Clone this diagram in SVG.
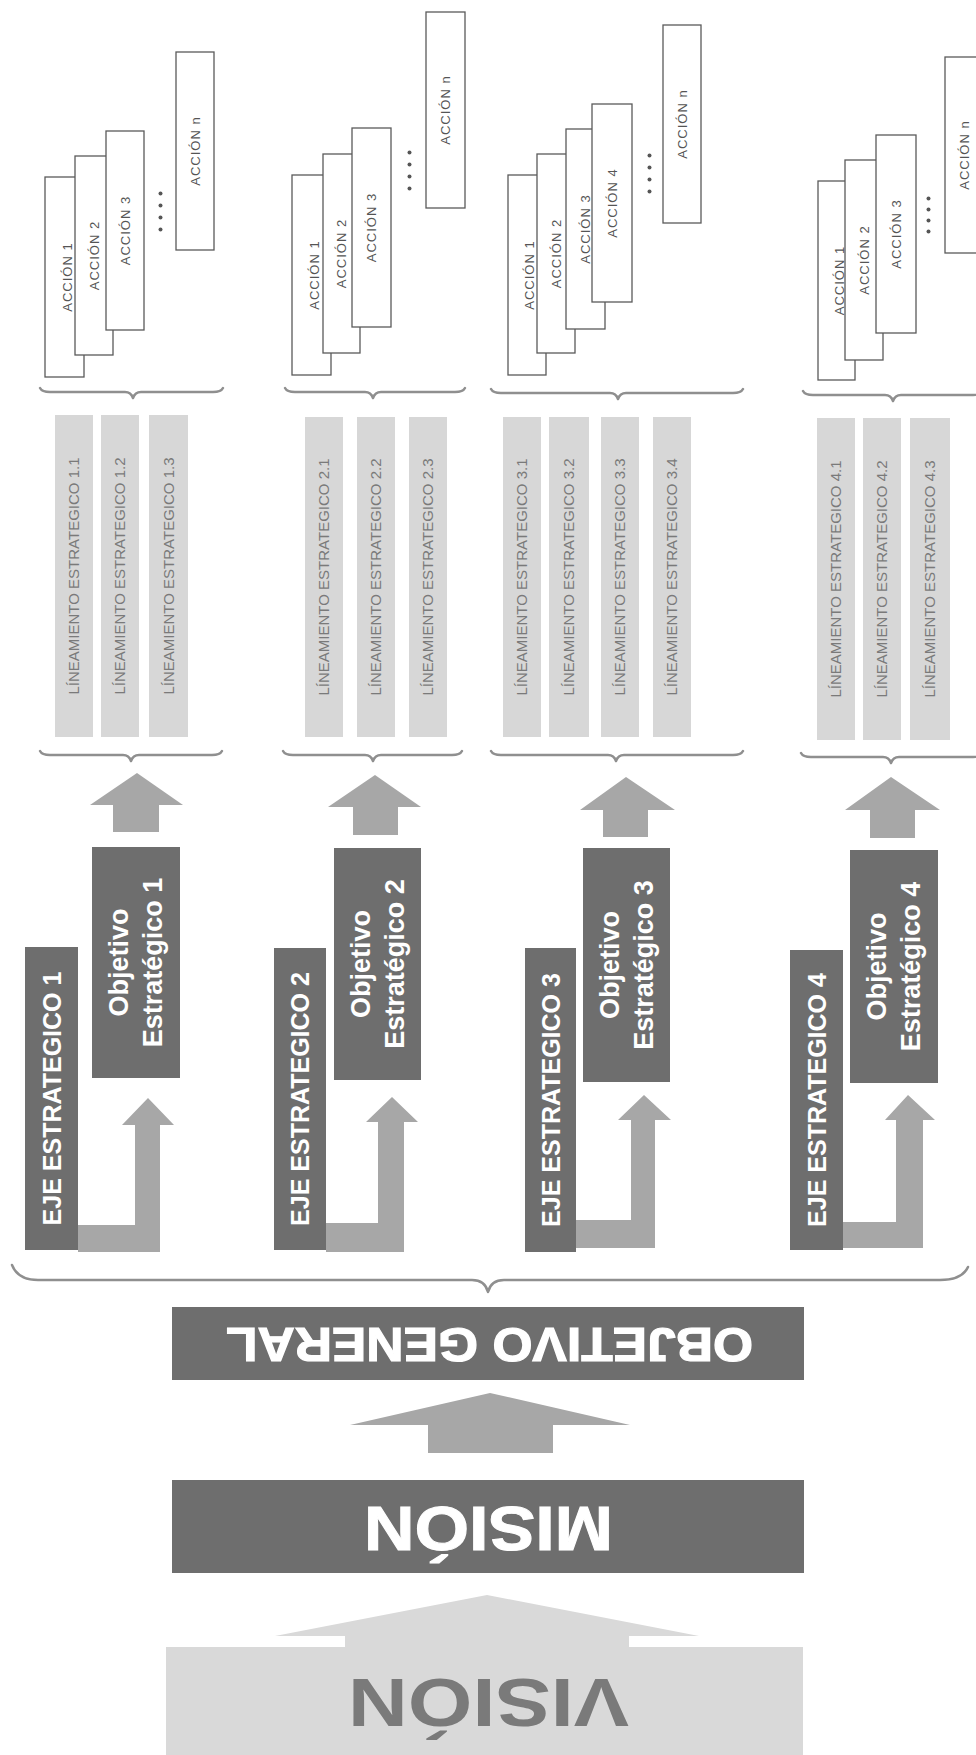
<svg xmlns="http://www.w3.org/2000/svg" width="976" height="1755" viewBox="0 0 976 1755">
<style>
text{font-family:"Liberation Sans",Arial,sans-serif}
.act{fill:#fff;stroke:#5a5a5a;stroke-width:1.3}
.at{font-size:13px;fill:#555;letter-spacing:1px;text-anchor:middle}
.dot{fill:#555}
.lin{fill:#d7d7d7}
.lt{font-size:15px;fill:#7a7a7a;text-anchor:middle}
.dark{fill:#6e6e6e}
.wt{fill:#fff;font-weight:bold;text-anchor:middle}
.arr{fill:#a7a7a7}
.brace{fill:none;stroke:#8f8f8f;stroke-width:2.5;stroke-linecap:round;stroke-linejoin:round}
</style>
<rect width="976" height="1755" fill="#fff"/>

<!-- ACTIONS -->
<g id="acciones-1">
<rect class="act" x="45" y="177" width="39" height="200"/>
<rect class="act" x="75" y="156" width="38" height="199"/>
<rect class="act" x="106" y="131" width="38" height="199"/>
<rect class="act" x="176" y="52" width="38" height="198"/>
<circle class="dot" cx="160.5" cy="193.5" r="2"/><circle class="dot" cx="160.5" cy="205.5" r="2"/><circle class="dot" cx="160.5" cy="217.5" r="2"/><circle class="dot" cx="160.5" cy="229.5" r="2"/>
<text class="at" transform="translate(67.5,277) rotate(-90)" y="4.5">ACCIÓN 1</text>
<text class="at" transform="translate(94,255.5) rotate(-90)" y="4.5">ACCIÓN 2</text>
<text class="at" transform="translate(125,230.5) rotate(-90)" y="4.5">ACCIÓN 3</text>
<text class="at" transform="translate(195,151) rotate(-90)" y="4.5">ACCIÓN n</text>
</g>
<g id="acciones-2">
<rect class="act" x="292" y="175" width="39" height="200"/>
<rect class="act" x="323" y="154" width="37" height="199"/>
<rect class="act" x="352" y="128" width="39" height="199"/>
<rect class="act" x="426" y="12" width="39" height="196"/>
<circle class="dot" cx="409.5" cy="152.5" r="2"/><circle class="dot" cx="409.5" cy="164.5" r="2"/><circle class="dot" cx="409.5" cy="176.5" r="2"/><circle class="dot" cx="409.5" cy="188.5" r="2"/>
<text class="at" transform="translate(314.5,275) rotate(-90)" y="4.5">ACCIÓN 1</text>
<text class="at" transform="translate(341.5,253.5) rotate(-90)" y="4.5">ACCIÓN 2</text>
<text class="at" transform="translate(371.5,227.5) rotate(-90)" y="4.5">ACCIÓN 3</text>
<text class="at" transform="translate(445.5,110) rotate(-90)" y="4.5">ACCIÓN n</text>
</g>
<g id="acciones-3">
<rect class="act" x="508" y="175" width="38" height="200"/>
<rect class="act" x="537" y="154" width="38" height="199"/>
<rect class="act" x="566" y="129" width="39" height="200"/>
<rect class="act" x="592" y="104" width="40" height="198"/>
<rect class="act" x="663" y="25" width="38" height="198"/>
<circle class="dot" cx="649.5" cy="155.5" r="2"/><circle class="dot" cx="649.5" cy="167.5" r="2"/><circle class="dot" cx="649.5" cy="179.5" r="2"/><circle class="dot" cx="649.5" cy="191.5" r="2"/>
<text class="at" transform="translate(529,275) rotate(-90)" y="4.5">ACCIÓN 1</text>
<text class="at" transform="translate(556,253.5) rotate(-90)" y="4.5">ACCIÓN 2</text>
<text class="at" transform="translate(585.5,229) rotate(-90)" y="4.5">ACCIÓN 3</text>
<text class="at" transform="translate(612,203) rotate(-90)" y="4.5">ACCIÓN 4</text>
<text class="at" transform="translate(682,124) rotate(-90)" y="4.5">ACCIÓN n</text>
</g>
<g id="acciones-4">
<rect class="act" x="818" y="181" width="37" height="199"/>
<rect class="act" x="845" y="160" width="38" height="200"/>
<rect class="act" x="876" y="135" width="40" height="198"/>
<rect class="act" x="945" y="57" width="38" height="196"/>
<circle class="dot" cx="928.5" cy="198.5" r="2"/><circle class="dot" cx="928.5" cy="209.5" r="2"/><circle class="dot" cx="928.5" cy="220.5" r="2"/><circle class="dot" cx="928.5" cy="231.5" r="2"/>
<text class="at" transform="translate(839.5,280.5) rotate(-90)" y="4.5">ACCIÓN 1</text>
<text class="at" transform="translate(864,260) rotate(-90)" y="4.5">ACCIÓN 2</text>
<text class="at" transform="translate(896,234) rotate(-90)" y="4.5">ACCIÓN 3</text>
<text class="at" transform="translate(964,155) rotate(-90)" y="4.5">ACCIÓN n</text>
</g>

<!-- LINEAMIENTOS -->
<g id="lineamientos-1">
<rect class="lin" x="55" y="415" width="38" height="322"/>
<rect class="lin" x="101" y="415" width="38" height="322"/>
<rect class="lin" x="149" y="415" width="39" height="322"/>
<text class="lt" transform="translate(74,576) rotate(-90)" y="5">LÍNEAMIENTO ESTRATEGICO 1.1</text>
<text class="lt" transform="translate(120,576) rotate(-90)" y="5">LÍNEAMIENTO ESTRATEGICO 1.2</text>
<text class="lt" transform="translate(168.5,576) rotate(-90)" y="5">LÍNEAMIENTO ESTRATEGICO 1.3</text>
</g>
<g id="lineamientos-2">
<rect class="lin" x="305" y="417" width="38" height="320"/>
<rect class="lin" x="357" y="417" width="38" height="320"/>
<rect class="lin" x="409" y="417" width="38" height="320"/>
<text class="lt" transform="translate(324,577) rotate(-90)" y="5">LÍNEAMIENTO ESTRATEGICO 2.1</text>
<text class="lt" transform="translate(376,577) rotate(-90)" y="5">LÍNEAMIENTO ESTRATEGICO 2.2</text>
<text class="lt" transform="translate(428,577) rotate(-90)" y="5">LÍNEAMIENTO ESTRATEGICO 2.3</text>
</g>
<g id="lineamientos-3">
<rect class="lin" x="503" y="417" width="38" height="320"/>
<rect class="lin" x="549" y="417" width="40" height="320"/>
<rect class="lin" x="601" y="417" width="38" height="320"/>
<rect class="lin" x="653" y="417" width="38" height="320"/>
<text class="lt" transform="translate(522,577) rotate(-90)" y="5">LÍNEAMIENTO ESTRATEGICO 3.1</text>
<text class="lt" transform="translate(569,577) rotate(-90)" y="5">LÍNEAMIENTO ESTRATEGICO 3.2</text>
<text class="lt" transform="translate(620,577) rotate(-90)" y="5">LÍNEAMIENTO ESTRATEGICO 3.3</text>
<text class="lt" transform="translate(672,577) rotate(-90)" y="5">LÍNEAMIENTO ESTRATEGICO 3.4</text>
</g>
<g id="lineamientos-4">
<rect class="lin" x="817" y="418" width="38" height="322"/>
<rect class="lin" x="863" y="418" width="38" height="322"/>
<rect class="lin" x="910" y="418" width="40" height="322"/>
<text class="lt" transform="translate(836,579) rotate(-90)" y="5">LÍNEAMIENTO ESTRATEGICO 4.1</text>
<text class="lt" transform="translate(882,579) rotate(-90)" y="5">LÍNEAMIENTO ESTRATEGICO 4.2</text>
<text class="lt" transform="translate(930,579) rotate(-90)" y="5">LÍNEAMIENTO ESTRATEGICO 4.3</text>
</g>

<!-- OBJETIVOS ESTRATEGICOS -->
<g id="objetivo-1"><rect class="dark" x="92" y="847" width="88" height="231"/>
<text class="wt" font-size="27" transform="translate(136,962.5) rotate(-90)"><tspan x="0" y="-8">Objetivo</tspan><tspan x="0" y="26">Estratégico 1</tspan></text></g>
<g id="objetivo-2"><rect class="dark" x="334" y="848" width="87" height="232"/>
<text class="wt" font-size="27" transform="translate(377.5,964) rotate(-90)"><tspan x="0" y="-8">Objetivo</tspan><tspan x="0" y="26">Estratégico 2</tspan></text></g>
<g id="objetivo-3"><rect class="dark" x="583" y="848" width="87" height="234"/>
<text class="wt" font-size="27" transform="translate(626.5,965) rotate(-90)"><tspan x="0" y="-8">Objetivo</tspan><tspan x="0" y="26">Estratégico 3</tspan></text></g>
<g id="objetivo-4"><rect class="dark" x="850" y="850" width="88" height="233"/>
<text class="wt" font-size="27" transform="translate(894,966.5) rotate(-90)"><tspan x="0" y="-8">Objetivo</tspan><tspan x="0" y="26">Estratégico 4</tspan></text></g>

<!-- EJES -->
<g id="eje-1"><rect class="dark" x="25" y="947" width="53" height="303"/>
<text class="wt" font-size="25" transform="translate(51.5,1098.5) rotate(-90)" y="9">EJE ESTRATEGICO 1</text></g>
<g id="eje-2"><rect class="dark" x="274" y="948" width="52" height="302"/>
<text class="wt" font-size="25" transform="translate(300,1099) rotate(-90)" y="9">EJE ESTRATEGICO 2</text></g>
<g id="eje-3"><rect class="dark" x="525" y="948" width="51" height="304"/>
<text class="wt" font-size="25" transform="translate(550.5,1100) rotate(-90)" y="9">EJE ESTRATEGICO 3</text></g>
<g id="eje-4"><rect class="dark" x="790" y="950" width="53" height="300"/>
<text class="wt" font-size="25" transform="translate(816.5,1100) rotate(-90)" y="9">EJE ESTRATEGICO 4</text></g>

<!-- OBJETIVO GENERAL / MISION / VISION -->
<g id="objetivo-general"><rect class="dark" x="172" y="1307" width="632" height="73"/>
<text class="wt" font-size="47.5" stroke="#fff" stroke-width="1.2" textLength="527" lengthAdjust="spacingAndGlyphs" transform="translate(489.5,1328) rotate(180)">OBJETIVO GENERAL</text></g>
<g id="mision"><rect class="dark" x="172" y="1480" width="632" height="93"/>
<text class="wt" font-size="63" stroke="#fff" stroke-width="1" textLength="249" lengthAdjust="spacingAndGlyphs" transform="translate(488.5,1507) rotate(180)">MISIÓN</text></g>
<g id="vision"><polygon points="487,1595 699,1636 629,1636 629,1647 803,1647 803,1755 166,1755 166,1647 345,1647 345,1636 275,1636" fill="#d9d9d9"/>
<text font-size="68" font-weight="bold" fill="#7a7a7a" text-anchor="middle" textLength="281" lengthAdjust="spacingAndGlyphs" transform="translate(488.5,1679) rotate(180)">VISIÓN</text></g>

<!-- CONNECTORS -->
<g id="connectors">
<path class="brace" d="M40,388 Q42,392 50,392 L125,392 Q131,392 133,398 Q135,392 141,392 L213,392 Q221,392 223,388"/>
<path class="brace" d="M40,751 Q42,755 50,755 L123,755 Q129,755 131,761 Q133,755 139,755 L212,755 Q220,755 222,751"/>
<path class="brace" d="M285,388 Q287,392 295,392 L365,392 Q371,392 373,398 Q375,392 381,392 L455,392 Q463,392 465,388"/>
<path class="brace" d="M283,751 Q285,755 293,755 L365,755 Q371,755 373,761 Q375,755 381,755 L452,755 Q460,755 462,751"/>
<path class="brace" d="M491,389 Q493,393 501,393 L610,393 Q616,393 618,399 Q620,393 626,393 L733,393 Q741,393 743,389"/>
<path class="brace" d="M491,751 Q493,755 501,755 L608,755 Q614,755 616,761 Q618,755 624,755 L733,755 Q741,755 743,751"/>
<path class="brace" d="M803,391 Q805,395 813,395 L885,395 Q891,395 893,401 Q895,395 901,395 L973,395 Q981,395 983,391"/>
<path class="brace" d="M801,753 Q803,757 811,757 L883,757 Q889,757 891,763 Q893,757 899,757 L973,757 Q981,757 983,753"/>
<path class="brace" d="M12,1265 Q18,1280 38,1280 L472,1280 Q485,1280 488,1292 Q491,1280 504,1280 L940,1280 Q962,1280 968,1267"/>
<polygon class="arr" points="137,773 183,805 159,805 159,832 113,832 113,805 90,805"/>
<polygon class="arr" points="375,775 421,807 398,807 398,835 353,835 353,807 328,807"/>
<polygon class="arr" points="626,777 675,810 648,810 648,837 603,837 603,810 580,810"/>
<polygon class="arr" points="891,777 940,810 915,810 915,838 870,838 870,810 845,810"/>
<polygon class="arr" points="78,1225 135,1225 135,1125 122,1125 148,1098 174,1125 160,1125 160,1252 78,1252"/>
<polygon class="arr" points="326,1223 378,1223 378,1122 366,1122 392,1097 418,1122 404,1122 404,1252 326,1252"/>
<polygon class="arr" points="576,1220 631,1220 631,1120 618,1120 644,1095 671,1120 655,1120 655,1248 576,1248"/>
<polygon class="arr" points="843,1222 896,1222 896,1120 885,1120 908,1095 935,1120 923,1120 923,1248 843,1248"/>
<polygon class="arr" points="490,1393 630,1425 553,1425 553,1453 428,1453 428,1425 350,1425"/>
</g>
</svg>
